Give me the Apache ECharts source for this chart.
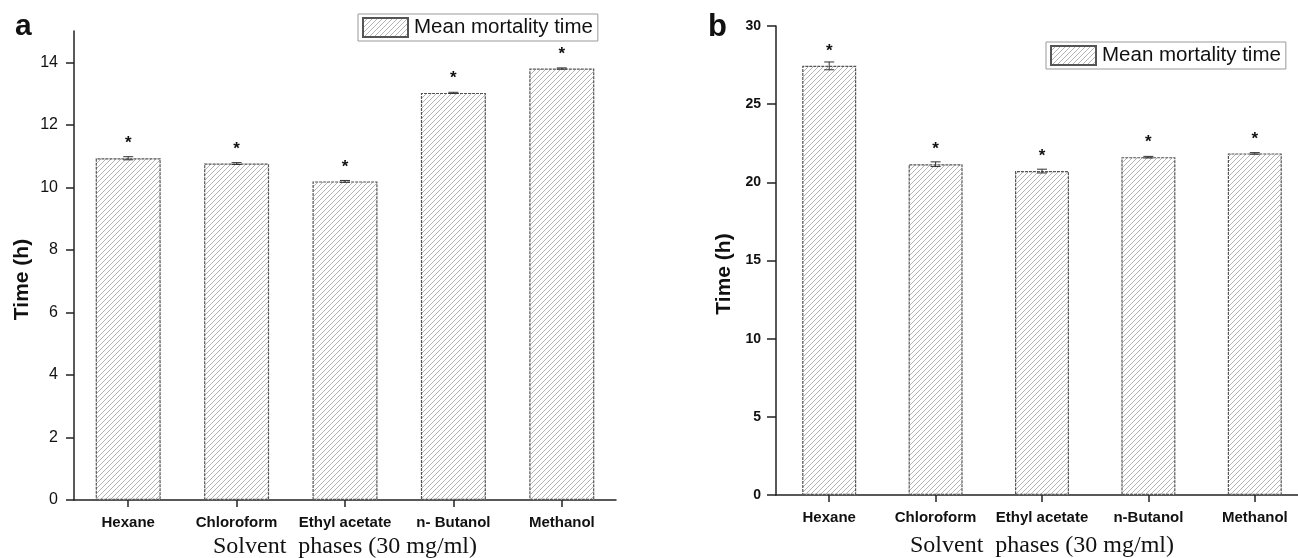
<!DOCTYPE html>
<html>
<head>
<meta charset="utf-8">
<script src="https://cdn.jsdelivr.net/npm/echarts@6/dist/echarts.min.js"></script>
<style>
html,body{margin:0;padding:0;background:#fff;}
#c{width:1298px;height:558px;}
</style>
</head>
<body>
<div id="c"></div>
<script>
// ---- data ----
const categoriesA = ['Hexane', 'Chloroform', 'Ethyl acetate', 'n- Butanol', 'Methanol'];
const categoriesB = ['Hexane', 'Chloroform', 'Ethyl acetate', 'n-Butanol', 'Methanol'];
const meanA = [10.93, 10.76, 10.19, 13.02, 13.80];
const errA = [0.05, 0.03, 0.03, 0.02, 0.02];
const meanB = [27.45, 21.16, 20.72, 21.61, 21.85];
const errB = [0.25, 0.15, 0.12, 0.05, 0.05];
const yTicksA = [0, 2, 4, 6, 8, 10, 12, 14];
const yTicksB = [0, 5, 10, 15, 20, 25, 30];
const seriesName = 'Mean mortality time';
const xTitle = 'Solvent  phases (30 mg/ml)';
const yTitle = 'Time (h)';

// ---- hatch pattern ----
function hatch() {
  const c = document.createElement('canvas');
  c.width = 10; c.height = 10;
  const g = c.getContext('2d');
  g.fillStyle = '#ffffff';
  g.fillRect(0, 0, 10, 10);
  g.strokeStyle = '#b4b4b4';
  g.lineWidth = 1;
  for (let k = -2; k <= 2; k++) {
    g.beginPath();
    g.moveTo(k * 5, 10);
    g.lineTo(k * 5 + 10, 0);
    g.stroke();
  }
  return c;
}
const pat = { image: hatch(), repeat: 'repeat' };

const sans = 'Liberation Sans, Arial, sans-serif';
const serif = 'Liberation Serif, Times New Roman, serif';

function errRender(params, api) {
  const i = api.value(0), m = api.value(1), e = api.value(2);
  const top = api.coord([i, m + e]);
  const bot = api.coord([i, m - e]);
  const hw = 5;
  const st = { stroke: '#333', lineWidth: 1 };
  return {
    type: 'group',
    children: [
      { type: 'line', shape: { x1: top[0], y1: top[1], x2: bot[0], y2: bot[1] }, style: st },
      { type: 'line', shape: { x1: top[0] - hw, y1: top[1], x2: top[0] + hw, y2: top[1] }, style: st },
      { type: 'line', shape: { x1: bot[0] - hw, y1: bot[1], x2: bot[0] + hw, y2: bot[1] }, style: st }
    ]
  };
}

const barItemStyle = { color: pat, borderColor: '#555', borderWidth: 1.2, borderType: [3, 1] };
const starLabel = {
  show: true, position: 'top', distance: 6, formatter: '*',
  fontSize: 17, fontWeight: 'bold', color: '#111', fontFamily: sans
};

function xAxis(gi, cats, nameGap) {
  return {
    type: 'category', gridIndex: gi, data: cats,
    axisLine: { lineStyle: { color: '#222', width: 1.5 } },
    axisTick: { show: true, alignWithLabel: true, length: 7, lineStyle: { color: '#222', width: 1.5 } },
    axisLabel: { interval: 0, margin: 15, fontSize: 15, fontWeight: 'bold', color: '#111', fontFamily: sans },
    name: xTitle, nameLocation: 'middle', nameGap: nameGap,
    nameTextStyle: { fontSize: 24, color: '#111', fontFamily: serif }
  };
}
function yAxis(gi, max, ticks, bold, fs, margin, tickLen, shift) {
  return {
    type: 'value', gridIndex: gi, min: 0, max: max,
    splitLine: { show: false },
    axisLine: { show: true, lineStyle: { color: '#222', width: 1.5 } },
    axisTick: { show: true, length: tickLen, customValues: ticks, lineStyle: { color: '#222', width: 1.5 } },
    axisLabel: { customValues: ticks, margin: margin, fontSize: fs, fontWeight: bold ? 'bold' : 'normal', color: '#111', fontFamily: sans },
    name: yTitle, nameLocation: 'middle', nameRotate: 90, nameGap: 41,
    nameTextStyle: { fontSize: 21, fontWeight: 'bold', color: '#111', fontFamily: sans, padding: [0, shift, 0, 0] }
  };
}
function legend(left, top) {
  return {
    data: [seriesName], left: left, top: top, orient: 'horizontal',
    icon: 'rect', itemWidth: 45, itemHeight: 19, itemGap: 6,
    padding: [3, 5, 3, 4], borderColor: '#999', borderWidth: 1,
    selectedMode: false,
    textStyle: { fontSize: 20.5, color: '#111', fontFamily: sans, padding: [0, 0, 0, 1] }
  };
}

const chart = echarts.init(document.getElementById('c'), null, { renderer: 'canvas' });
chart.setOption({
  backgroundColor: '#fff',
  animation: false,
  title: [
    { text: 'a', left: 10, top: 7, textStyle: { fontSize: 30, fontWeight: 'bold', color: '#111', fontFamily: sans } },
    { text: 'b', left: 703, top: 7, textStyle: { fontSize: 31, fontWeight: 'bold', color: '#111', fontFamily: sans } }
  ],
  legend: [legend(358, 14), legend(1046, 42)],
  grid: [
    { left: 74, top: 31, width: 542, height: 469, containLabel: false, outerBoundsMode: 'none' },
    { left: 776, top: 26, width: 532, height: 469, containLabel: false, outerBoundsMode: 'none' }
  ],
  xAxis: [xAxis(0, categoriesA, 33), xAxis(1, categoriesB, 39)],
  yAxis: [yAxis(0, 15, yTicksA, false, 16, 16, 8, 28), yAxis(1, 30, yTicksB, true, 14, 15, 9, 27)],
  series: [
    { name: seriesName, type: 'bar', xAxisIndex: 0, yAxisIndex: 0, data: meanA, barWidth: 65, itemStyle: barItemStyle, label: starLabel },
    { name: seriesName, type: 'bar', xAxisIndex: 1, yAxisIndex: 1, data: meanB, barWidth: 54, itemStyle: barItemStyle, label: starLabel },
    { name: 'errA', type: 'custom', xAxisIndex: 0, yAxisIndex: 0, renderItem: errRender,
      data: meanA.map((m, i) => [i, m, errA[i]]), z: 5 },
    { name: 'errB', type: 'custom', xAxisIndex: 1, yAxisIndex: 1, renderItem: errRender,
      data: meanB.map((m, i) => [i, m, errB[i]]), z: 5 }
  ]
});
</script>
</body>
</html>
